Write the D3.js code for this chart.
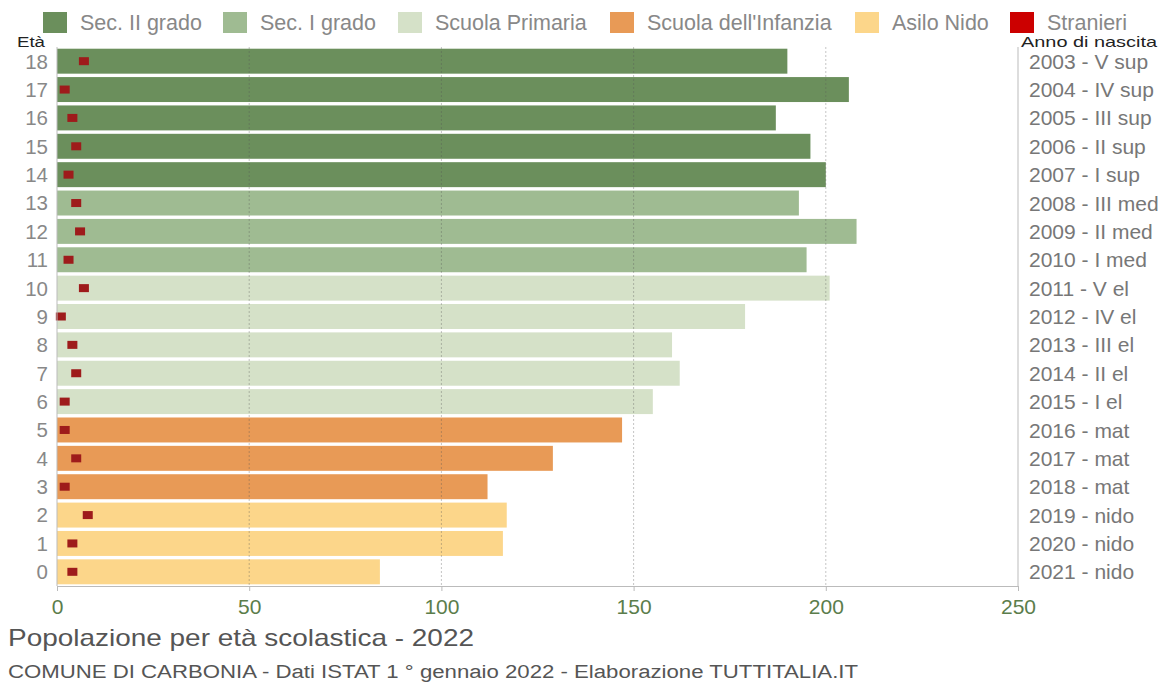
<!DOCTYPE html>
<html><head><meta charset="utf-8">
<script src="https://cdn.jsdelivr.net/npm/d3@7"></script>
<style>body{margin:0;background:#fff;font-family:"Liberation Sans",Arial,sans-serif}</style>
</head><body><svg id="c" width="1165" height="686"></svg>
<script>
const ages = [18,17,16,15,14,13,12,11,10,9,8,7,6,5,4,3,2,1,0];
const totals = [190,206,187,196,200,193,208,195,201,179,160,162,155,147,129,112,117,116,84];
const foreigners = [7,2,4,5,3,5,6,3,7,1,4,5,2,2,5,2,8,4,4];
const birthLabels = ["2003 - V sup","2004 - IV sup","2005 - III sup","2006 - II sup","2007 - I sup","2008 - III med","2009 - II med","2010 - I med","2011 - V el","2012 - IV el","2013 - III el","2014 - II el","2015 - I el","2016 - mat","2017 - mat","2018 - mat","2019 - nido","2020 - nido","2021 - nido"];
const levels = ["Sec. II grado","Sec. I grado","Scuola Primaria","Scuola dell'Infanzia","Asilo Nido","Stranieri"];
const levelColors = ["#6b8f5c","#9fbb92","#d5e1c8","#e89a56","#fcd68a","#cc0000"];
const levelOfAge = ["Sec. II grado","Sec. II grado","Sec. II grado","Sec. II grado","Sec. II grado","Sec. I grado","Sec. I grado","Sec. I grado","Scuola Primaria","Scuola Primaria","Scuola Primaria","Scuola Primaria","Scuola Primaria","Scuola dell'Infanzia","Scuola dell'Infanzia","Scuola dell'Infanzia","Asilo Nido","Asilo Nido","Asilo Nido"];
const xTicks = [0,50,100,150,200,250];

const svg = d3.select("#c");
const L=57, R=1018, T=47, B=586;
const x = d3.scaleLinear().domain([0,250]).range([L,R]);
const y = d3.scaleBand().domain(ages).range([T,B]).paddingInner(0.12).paddingOuter(0.06);
const color = d3.scaleOrdinal().domain(levels).range(levelColors);

// bars
svg.append("g").selectAll("rect").data(ages).join("rect")
  .attr("x", x(0)).attr("y", d=>y(d))
  .attr("width", (d,i)=>x(totals[i])-x(0)).attr("height", y.bandwidth())
  .attr("fill", (d,i)=>color(levelOfAge[i]));

// grid lines
svg.append("g").selectAll("line").data(xTicks.slice(1,5)).join("line")
  .attr("x1", d=>x(d)).attr("x2", d=>x(d)).attr("y1", T).attr("y2", B)
  .attr("stroke", "#555").attr("stroke-opacity",0.35).attr("stroke-dasharray","2,2");

// foreigners markers
svg.append("g").selectAll("rect").data(ages).join("rect")
  .attr("x", (d,i)=>x(foreigners[i])-5).attr("y", d=>y(d)+y.bandwidth()/2-4)
  .attr("width", 10).attr("height", 8).attr("fill", "#9e1b1b");

// axes lines
svg.append("line").attr("x1",L).attr("x2",L).attr("y1",T).attr("y2",B).attr("stroke","#bbb");
svg.append("line").attr("x1",R).attr("x2",R).attr("y1",T).attr("y2",B).attr("stroke","#bbb");

const xAxis = svg.append("g").attr("transform",`translate(0,${B})`)
  .call(d3.axisBottom(x).tickValues(xTicks).tickSize(5).tickSizeOuter(0));
xAxis.select(".domain").attr("stroke","#bbb");
xAxis.selectAll(".tick line").attr("stroke","#bbb");
xAxis.selectAll(".tick text").attr("fill","#5b7d4b").attr("font-size",21)
  .attr("font-family","Liberation Sans, Arial, sans-serif").attr("dy","0.95em");

// left labels
svg.append("g").selectAll("text").data(ages).join("text")
  .attr("x", 48).attr("y", d=>y(d)+y.bandwidth()/2).attr("dy","0.36em")
  .attr("text-anchor","end").attr("font-size",20.5).attr("fill","#888").text(d=>d);
svg.append("text").attr("x",17).attr("y",47).attr("font-size",14)
  .attr("textLength",28).attr("lengthAdjust","spacingAndGlyphs").attr("fill","#222").text("Età");

// right labels
svg.append("g").selectAll("text").data(ages).join("text")
  .attr("x", 1029).attr("y", d=>y(d)+y.bandwidth()/2).attr("dy","0.36em")
  .attr("font-size",21).attr("fill","#777").text((d,i)=>birthLabels[i]);
svg.append("text").attr("x",1021).attr("y",47).attr("font-size",15)
  .attr("textLength",136).attr("lengthAdjust","spacingAndGlyphs").attr("fill","#222").text("Anno di nascita");

// legend
const legX = [43,223,398,610,855,1010];
const lg = svg.append("g").selectAll("g").data(levels).join("g")
  .attr("transform",(d,i)=>`translate(${legX[i]},12)`);
lg.append("rect").attr("width",24).attr("height",21).attr("fill",d=>color(d));
lg.append("text").attr("x",37).attr("y",18).attr("font-size",21.5).attr("fill","#888").text(d=>d);

// titles
svg.append("text").attr("x",8).attr("y",646).attr("font-size",24)
  .attr("textLength",466).attr("lengthAdjust","spacingAndGlyphs").attr("fill","#555").text("Popolazione per età scolastica - 2022");
svg.append("text").attr("x",8).attr("y",678).attr("font-size",18)
  .attr("textLength",850).attr("lengthAdjust","spacingAndGlyphs").attr("fill","#555").text("COMUNE DI CARBONIA - Dati ISTAT 1 ° gennaio 2022 - Elaborazione TUTTITALIA.IT");
</script></body></html>
